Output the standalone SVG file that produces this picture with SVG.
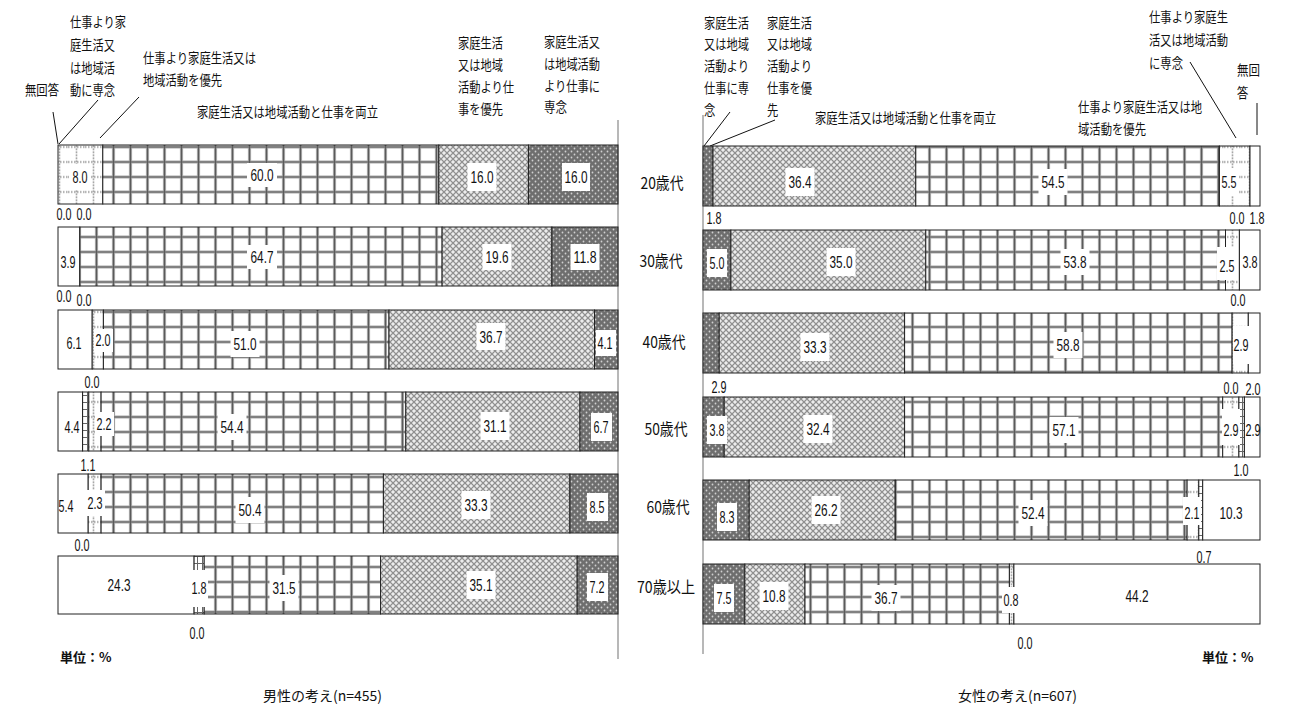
<svg xmlns="http://www.w3.org/2000/svg" width="1290" height="709" viewBox="0 0 1290 709">
<defs>
<pattern id="pGrid" patternUnits="userSpaceOnUse" x="3" y="4.5" width="17" height="15">
<rect width="17" height="15" fill="#fff"/>
<path d="M0 7.5H17M8.5 0V15" stroke="#a8a8a8" stroke-width="3.2" fill="none"/>
<path d="M0 7.5H17M8.5 0V15" stroke="#5a5a5a" stroke-width="1.2" fill="none"/>
</pattern>
<pattern id="pDot" patternUnits="userSpaceOnUse" x="0" y="4.5" width="17" height="15">
<rect width="17" height="15" fill="#fff"/>
<path d="M0 7.5H17M8.5 0V15" stroke="#8a8a8a" stroke-width="1.6" stroke-dasharray="1.5 1.5" fill="none"/>
</pattern>
<pattern id="pCross" patternUnits="userSpaceOnUse" width="6" height="6">
<rect width="6" height="6" fill="#dedede"/>
<path d="M0 0L6 6M6 0L0 6" stroke="#8c8c8c" stroke-width="1.1" fill="none"/>
<circle cx="3" cy="0" r="0.8" fill="#fff"/>
<circle cx="0" cy="3" r="0.8" fill="#fff"/>
<circle cx="6" cy="3" r="0.8" fill="#fff"/>
<circle cx="3" cy="6" r="0.8" fill="#fff"/>
</pattern>
<pattern id="pDark" patternUnits="userSpaceOnUse" width="6" height="6">
<rect width="6" height="6" fill="#6e6e6e"/>
<circle cx="1.5" cy="1.5" r="0.9" fill="#d0d0d0"/>
<circle cx="4.5" cy="4.5" r="0.9" fill="#d0d0d0"/>
</pattern>
<pattern id="pSmall" patternUnits="userSpaceOnUse" width="5" height="7">
<rect width="5" height="7" fill="#fff"/>
<path d="M0 3.5H5M2.5 0V7" stroke="#666" stroke-width="1" fill="none"/>
</pattern>
</defs>
<style>
.sg{stroke:#222;stroke-width:1}
.w{fill:#fff}
.g{fill:url(#pGrid)}
.o{fill:url(#pDot)}
.x{fill:url(#pCross)}
.d{fill:url(#pDark)}
.s{fill:url(#pSmall)}
.bx{fill:#fff}
.v{font-family:"Liberation Sans Narrow","Liberation Sans",sans-serif;font-size:16.5px;fill:#111;text-anchor:middle}
.jp{font-family:"Noto Sans CJK JP",sans-serif;font-size:13.5px;fill:#111}
.age{font-family:"Noto Sans CJK JP",sans-serif;font-size:16px;fill:#111;text-anchor:middle}
.unit{font-family:"Noto Sans CJK JP",sans-serif;font-size:13px;font-weight:bold;fill:#111}
.ttl{font-family:"Noto Sans CJK JP",sans-serif;font-size:14px;fill:#111}
.ax{stroke:#a0a0a0;stroke-width:1.5;fill:none}
.ld{stroke:#111;stroke-width:1;fill:none}
</style>
<rect width="1290" height="709" fill="#fff"/>
<g id="axes">
<line class="ax" x1="618" y1="120" x2="618" y2="659"/>
<line class="ax" x1="703" y1="115" x2="703" y2="654"/>
</g>
<g id="header-labels">
<text class="jp" x="25" y="95" textLength="34" lengthAdjust="spacingAndGlyphs">無回答</text>
<text class="jp" x="70" y="27" textLength="56" lengthAdjust="spacingAndGlyphs">仕事より家</text>
<text class="jp" x="70" y="50" textLength="45" lengthAdjust="spacingAndGlyphs">庭生活又</text>
<text class="jp" x="70" y="73" textLength="45" lengthAdjust="spacingAndGlyphs">は地域活</text>
<text class="jp" x="70" y="95" textLength="45" lengthAdjust="spacingAndGlyphs">動に専念</text>
<text class="jp" x="143" y="63" textLength="113" lengthAdjust="spacingAndGlyphs">仕事より家庭生活又は</text>
<text class="jp" x="143" y="85" textLength="79" lengthAdjust="spacingAndGlyphs">地域活動を優先</text>
<text class="jp" x="197" y="117" textLength="181" lengthAdjust="spacingAndGlyphs">家庭生活又は地域活動と仕事を両立</text>
<text class="jp" x="458" y="48" textLength="45" lengthAdjust="spacingAndGlyphs">家庭生活</text>
<text class="jp" x="458" y="70" textLength="45" lengthAdjust="spacingAndGlyphs">又は地域</text>
<text class="jp" x="458" y="92" textLength="56" lengthAdjust="spacingAndGlyphs">活動より仕</text>
<text class="jp" x="458" y="114" textLength="45" lengthAdjust="spacingAndGlyphs">事を優先</text>
<text class="jp" x="544" y="47" textLength="56" lengthAdjust="spacingAndGlyphs">家庭生活又</text>
<text class="jp" x="544" y="69" textLength="56" lengthAdjust="spacingAndGlyphs">は地域活動</text>
<text class="jp" x="544" y="91" textLength="56" lengthAdjust="spacingAndGlyphs">より仕事に</text>
<text class="jp" x="544" y="112" textLength="23" lengthAdjust="spacingAndGlyphs">専念</text>
<text class="jp" x="704" y="28" textLength="45" lengthAdjust="spacingAndGlyphs">家庭生活</text>
<text class="jp" x="704" y="49" textLength="45" lengthAdjust="spacingAndGlyphs">又は地域</text>
<text class="jp" x="704" y="71" textLength="45" lengthAdjust="spacingAndGlyphs">活動より</text>
<text class="jp" x="704" y="93" textLength="45" lengthAdjust="spacingAndGlyphs">仕事に専</text>
<text class="jp" x="704" y="115" textLength="11.3" lengthAdjust="spacingAndGlyphs">念</text>
<text class="jp" x="767" y="28" textLength="45" lengthAdjust="spacingAndGlyphs">家庭生活</text>
<text class="jp" x="767" y="49" textLength="45" lengthAdjust="spacingAndGlyphs">又は地域</text>
<text class="jp" x="767" y="71" textLength="45" lengthAdjust="spacingAndGlyphs">活動より</text>
<text class="jp" x="767" y="93" textLength="45" lengthAdjust="spacingAndGlyphs">仕事を優</text>
<text class="jp" x="767" y="115" textLength="11.3" lengthAdjust="spacingAndGlyphs">先</text>
<text class="jp" x="815" y="123" textLength="181" lengthAdjust="spacingAndGlyphs">家庭生活又は地域活動と仕事を両立</text>
<text class="jp" x="1149" y="22" textLength="79" lengthAdjust="spacingAndGlyphs">仕事より家庭生</text>
<text class="jp" x="1149" y="45" textLength="79" lengthAdjust="spacingAndGlyphs">活又は地域活動</text>
<text class="jp" x="1149" y="68" textLength="34" lengthAdjust="spacingAndGlyphs">に専念</text>
<text class="jp" x="1237" y="75" textLength="23" lengthAdjust="spacingAndGlyphs">無回</text>
<text class="jp" x="1237" y="98" textLength="11.3" lengthAdjust="spacingAndGlyphs">答</text>
<text class="jp" x="1078" y="112" textLength="124" lengthAdjust="spacingAndGlyphs">仕事より家庭生活又は地</text>
<text class="jp" x="1078" y="134" textLength="68" lengthAdjust="spacingAndGlyphs">域活動を優先</text>
</g>
<g id="connectors">
<line class="ld" x1="53" y1="112" x2="58" y2="144"/>
<line class="ld" x1="98" y1="100" x2="59" y2="144"/>
<line class="ld" x1="139" y1="97" x2="100" y2="138"/>
<line class="ld" x1="730" y1="112" x2="704" y2="146"/>
<line class="ld" x1="775" y1="120" x2="710" y2="146"/>
<line class="ld" x1="1190" y1="62" x2="1236" y2="138"/>
<line class="ld" x1="1257" y1="103" x2="1257" y2="135"/>
</g>
<g id="age-labels">
<text class="age" x="662" y="189" textLength="43" lengthAdjust="spacingAndGlyphs">20歳代</text>
<text class="age" x="661" y="267" textLength="43" lengthAdjust="spacingAndGlyphs">30歳代</text>
<text class="age" x="664" y="348" textLength="43" lengthAdjust="spacingAndGlyphs">40歳代</text>
<text class="age" x="666" y="435" textLength="43" lengthAdjust="spacingAndGlyphs">50歳代</text>
<text class="age" x="668" y="513" textLength="43" lengthAdjust="spacingAndGlyphs">60歳代</text>
<text class="age" x="666" y="593" textLength="58" lengthAdjust="spacingAndGlyphs">70歳以上</text>
</g>
<g id="m20">
<rect class="sg o" x="58" y="145" width="44.8" height="59"/>
<rect class="sg g" x="102.8" y="145" width="336" height="59"/>
<rect class="sg x" x="438.8" y="145" width="89.6" height="59"/>
<rect class="sg d" x="528.4" y="145" width="89.6" height="59"/>
<rect class="bx" x="69" y="164" width="22" height="26"/><text class="v" x="80" y="183" textLength="15" lengthAdjust="spacingAndGlyphs">8.0</text>
<rect class="bx" x="247" y="163" width="30" height="24"/><text class="v" x="262" y="181" textLength="23" lengthAdjust="spacingAndGlyphs">60.0</text>
<rect class="bx" x="467.5" y="163" width="29" height="28"/><text class="v" x="482" y="183" textLength="23" lengthAdjust="spacingAndGlyphs">16.0</text>
<rect class="bx" x="562" y="163" width="28" height="28"/><text class="v" x="576" y="183" textLength="23" lengthAdjust="spacingAndGlyphs">16.0</text>
<text class="v" x="64" y="220" textLength="15" lengthAdjust="spacingAndGlyphs">0.0</text>
<text class="v" x="84" y="220" textLength="15" lengthAdjust="spacingAndGlyphs">0.0</text>
</g>
<g id="m30">
<rect class="sg w" x="58" y="227" width="21.8" height="59"/>
<rect class="sg g" x="79.8" y="227" width="362.3" height="59"/>
<rect class="sg x" x="442.1" y="227" width="109.8" height="59"/>
<rect class="sg d" x="551.9" y="227" width="66.1" height="59"/>
<text class="v" x="68" y="268" textLength="15" lengthAdjust="spacingAndGlyphs">3.9</text>
<rect class="bx" x="247" y="245" width="30" height="24"/><text class="v" x="262" y="263" textLength="23" lengthAdjust="spacingAndGlyphs">64.7</text>
<rect class="bx" x="482.5" y="244" width="29" height="26"/><text class="v" x="497" y="263" textLength="23" lengthAdjust="spacingAndGlyphs">19.6</text>
<rect class="bx" x="570.5" y="244" width="29" height="26"/><text class="v" x="585" y="263" textLength="23" lengthAdjust="spacingAndGlyphs">11.8</text>
<text class="v" x="64" y="302" textLength="15" lengthAdjust="spacingAndGlyphs">0.0</text>
<text class="v" x="84" y="306" textLength="15" lengthAdjust="spacingAndGlyphs">0.0</text>
</g>
<g id="m40">
<rect class="sg w" x="58" y="310" width="34.2" height="59"/>
<rect class="sg o" x="92.2" y="310" width="11.2" height="59"/>
<rect class="sg g" x="103.4" y="310" width="285.6" height="59"/>
<rect class="sg x" x="389" y="310" width="205.5" height="59"/>
<rect class="sg d" x="594.5" y="310" width="23.5" height="59"/>
<text class="v" x="74" y="349" textLength="15" lengthAdjust="spacingAndGlyphs">6.1</text>
<rect class="bx" x="94" y="329" width="19" height="23"/><text class="v" x="103" y="346" textLength="15" lengthAdjust="spacingAndGlyphs">2.0</text>
<rect class="bx" x="230.5" y="331" width="29" height="26"/><text class="v" x="245" y="350" textLength="23" lengthAdjust="spacingAndGlyphs">51.0</text>
<rect class="bx" x="476.5" y="323" width="29" height="27"/><text class="v" x="491" y="343" textLength="23" lengthAdjust="spacingAndGlyphs">36.7</text>
<rect class="bx" x="596" y="330" width="20" height="26"/><text class="v" x="605" y="349" textLength="15" lengthAdjust="spacingAndGlyphs">4.1</text>
<text class="v" x="92" y="388" textLength="15" lengthAdjust="spacingAndGlyphs">0.0</text>
</g>
<g id="m50">
<rect class="sg w" x="58" y="392" width="24.6" height="59"/>
<rect class="sg s" x="82.6" y="392" width="6.2" height="59"/>
<rect class="sg o" x="88.8" y="392" width="12.3" height="59"/>
<rect class="sg g" x="101.1" y="392" width="304.7" height="59"/>
<rect class="sg x" x="405.8" y="392" width="174.2" height="59"/>
<rect class="sg d" x="580" y="392" width="38" height="59"/>
<text class="v" x="72" y="433" textLength="15" lengthAdjust="spacingAndGlyphs">4.4</text>
<rect class="bx" x="95" y="412" width="19" height="24"/><text class="v" x="104" y="430" textLength="15" lengthAdjust="spacingAndGlyphs">2.2</text>
<rect class="bx" x="217.5" y="414" width="29" height="26"/><text class="v" x="232" y="433" textLength="23" lengthAdjust="spacingAndGlyphs">54.4</text>
<rect class="bx" x="480.5" y="412" width="29" height="28"/><text class="v" x="495" y="432" textLength="23" lengthAdjust="spacingAndGlyphs">31.1</text>
<rect class="bx" x="591" y="413" width="21" height="28"/><text class="v" x="601" y="433" textLength="15" lengthAdjust="spacingAndGlyphs">6.7</text>
<text class="v" x="88" y="471" textLength="15" lengthAdjust="spacingAndGlyphs">1.1</text>
</g>
<g id="m60">
<rect class="sg w" x="58" y="474" width="30.2" height="59"/>
<rect class="sg o" x="88.2" y="474" width="12.9" height="59"/>
<rect class="sg g" x="101.1" y="474" width="282.3" height="59"/>
<rect class="sg x" x="383.4" y="474" width="186.5" height="59"/>
<rect class="sg d" x="569.9" y="474" width="48.1" height="59"/>
<text class="v" x="66" y="512" textLength="15" lengthAdjust="spacingAndGlyphs">5.4</text>
<rect class="bx" x="86" y="490" width="19" height="26"/><text class="v" x="95" y="509" textLength="15" lengthAdjust="spacingAndGlyphs">2.3</text>
<rect class="bx" x="235.5" y="497" width="29" height="26"/><text class="v" x="250" y="516" textLength="23" lengthAdjust="spacingAndGlyphs">50.4</text>
<rect class="bx" x="461.5" y="491" width="29" height="28"/><text class="v" x="476" y="511" textLength="23" lengthAdjust="spacingAndGlyphs">33.3</text>
<rect class="bx" x="587" y="493" width="21" height="28"/><text class="v" x="597" y="513" textLength="15" lengthAdjust="spacingAndGlyphs">8.5</text>
<text class="v" x="82" y="551" textLength="15" lengthAdjust="spacingAndGlyphs">0.0</text>
</g>
<g id="m70">
<rect class="sg w" x="58" y="556" width="136.1" height="58"/>
<rect class="sg s" x="194.1" y="556" width="10.1" height="58"/>
<rect class="sg g" x="204.2" y="556" width="176.4" height="58"/>
<rect class="sg x" x="380.6" y="556" width="196.6" height="58"/>
<rect class="sg d" x="577.2" y="556" width="40.8" height="58"/>
<text class="v" x="119" y="591" textLength="23" lengthAdjust="spacingAndGlyphs">24.3</text>
<rect class="bx" x="190" y="570" width="18" height="37"/><text class="v" x="199" y="594" textLength="15" lengthAdjust="spacingAndGlyphs">1.8</text>
<rect class="bx" x="269.5" y="575" width="29" height="26"/><text class="v" x="284" y="594" textLength="23" lengthAdjust="spacingAndGlyphs">31.5</text>
<rect class="bx" x="466.5" y="571" width="29" height="28"/><text class="v" x="481" y="591" textLength="23" lengthAdjust="spacingAndGlyphs">35.1</text>
<rect class="bx" x="587" y="573" width="21" height="28"/><text class="v" x="597" y="593" textLength="15" lengthAdjust="spacingAndGlyphs">7.2</text>
<text class="v" x="197" y="639" textLength="15" lengthAdjust="spacingAndGlyphs">0.0</text>
</g>
<g id="f20">
<rect class="sg d" x="703" y="146" width="10" height="60"/>
<rect class="sg x" x="713" y="146" width="202.8" height="60"/>
<rect class="sg g" x="915.8" y="146" width="303.6" height="60"/>
<rect class="sg o" x="1219.4" y="146" width="30.6" height="60"/>
<rect class="sg w" x="1250" y="146" width="10" height="60"/>
<rect class="bx" x="785.5" y="168" width="29" height="28"/><text class="v" x="800" y="188" textLength="23" lengthAdjust="spacingAndGlyphs">36.4</text>
<rect class="bx" x="1038.5" y="169" width="29" height="26"/><text class="v" x="1053" y="188" textLength="23" lengthAdjust="spacingAndGlyphs">54.5</text>
<rect class="bx" x="1220" y="168" width="18" height="28"/><text class="v" x="1229" y="188" textLength="15" lengthAdjust="spacingAndGlyphs">5.5</text>
<text class="v" x="714" y="224" textLength="15" lengthAdjust="spacingAndGlyphs">1.8</text>
<text class="v" x="1237" y="224" textLength="15" lengthAdjust="spacingAndGlyphs">0.0</text>
<text class="v" x="1257" y="224" textLength="15" lengthAdjust="spacingAndGlyphs">1.8</text>
</g>
<g id="f30">
<rect class="sg d" x="703" y="230" width="27.9" height="60"/>
<rect class="sg x" x="730.9" y="230" width="194.9" height="60"/>
<rect class="sg g" x="925.8" y="230" width="299.7" height="60"/>
<rect class="sg o" x="1225.5" y="230" width="13.9" height="60"/>
<rect class="sg w" x="1239.4" y="230" width="20.6" height="60"/>
<rect class="bx" x="707" y="249" width="20" height="28"/><text class="v" x="717" y="269" textLength="15" lengthAdjust="spacingAndGlyphs">5.0</text>
<rect class="bx" x="826.5" y="248" width="29" height="28"/><text class="v" x="841" y="268" textLength="23" lengthAdjust="spacingAndGlyphs">35.0</text>
<rect class="bx" x="1060.5" y="249" width="29" height="26"/><text class="v" x="1075" y="268" textLength="23" lengthAdjust="spacingAndGlyphs">53.8</text>
<rect class="bx" x="1217" y="247" width="21" height="33"/><text class="v" x="1227" y="272" textLength="15" lengthAdjust="spacingAndGlyphs">2.5</text>
<text class="v" x="1250" y="268" textLength="15" lengthAdjust="spacingAndGlyphs">3.8</text>
<text class="v" x="1238" y="306" textLength="15" lengthAdjust="spacingAndGlyphs">0.0</text>
</g>
<g id="f40">
<rect class="sg d" x="703" y="313" width="16.2" height="60"/>
<rect class="sg x" x="719.2" y="313" width="185.4" height="60"/>
<rect class="sg g" x="904.6" y="313" width="327.5" height="60"/>
<rect class="sg o" x="1232.1" y="313" width="16.2" height="60"/>
<rect class="sg w" x="1248.3" y="313" width="11.7" height="60"/>
<rect class="bx" x="800.5" y="333" width="29" height="28"/><text class="v" x="815" y="353" textLength="23" lengthAdjust="spacingAndGlyphs">33.3</text>
<rect class="bx" x="1053.5" y="332" width="29" height="26"/><text class="v" x="1068" y="351" textLength="23" lengthAdjust="spacingAndGlyphs">58.8</text>
<rect class="bx" x="1233" y="326" width="16" height="38"/><text class="v" x="1241" y="351" textLength="15" lengthAdjust="spacingAndGlyphs">2.9</text>
<text class="v" x="719" y="393" textLength="15" lengthAdjust="spacingAndGlyphs">2.9</text>
<text class="v" x="1231" y="394" textLength="15" lengthAdjust="spacingAndGlyphs">0.0</text>
<text class="v" x="1253" y="395" textLength="15" lengthAdjust="spacingAndGlyphs">2.0</text>
</g>
<g id="f50">
<rect class="sg d" x="703" y="397" width="21.2" height="60"/>
<rect class="sg x" x="724.2" y="397" width="180.4" height="60"/>
<rect class="sg g" x="904.6" y="397" width="318.1" height="60"/>
<rect class="sg o" x="1222.7" y="397" width="16.2" height="60"/>
<rect class="sg s" x="1238.9" y="397" width="5.5" height="60"/>
<rect class="sg w" x="1244.4" y="397" width="15.6" height="60"/>
<rect class="bx" x="707" y="416" width="20" height="28"/><text class="v" x="717" y="436" textLength="15" lengthAdjust="spacingAndGlyphs">3.8</text>
<rect class="bx" x="803.5" y="415" width="29" height="28"/><text class="v" x="818" y="435" textLength="23" lengthAdjust="spacingAndGlyphs">32.4</text>
<rect class="bx" x="1049.5" y="417" width="29" height="26"/><text class="v" x="1064" y="436" textLength="23" lengthAdjust="spacingAndGlyphs">57.1</text>
<rect class="bx" x="1222" y="409" width="18" height="36"/><text class="v" x="1231" y="436" textLength="15" lengthAdjust="spacingAndGlyphs">2.9</text>
<text class="v" x="1253" y="436" textLength="15" lengthAdjust="spacingAndGlyphs">2.9</text>
<text class="v" x="1241" y="476" textLength="15" lengthAdjust="spacingAndGlyphs">1.0</text>
</g>
<g id="f60">
<rect class="sg d" x="703" y="480" width="46.2" height="60"/>
<rect class="sg x" x="749.2" y="480" width="146" height="60"/>
<rect class="sg g" x="895.2" y="480" width="291.9" height="60"/>
<rect class="sg o" x="1187.1" y="480" width="11.7" height="60"/>
<rect class="sg s" x="1198.8" y="480" width="3.9" height="60"/>
<rect class="sg w" x="1202.7" y="480" width="57.3" height="60"/>
<rect class="bx" x="717" y="503" width="20" height="28"/><text class="v" x="727" y="523" textLength="15" lengthAdjust="spacingAndGlyphs">8.3</text>
<rect class="bx" x="811.5" y="496" width="29" height="28"/><text class="v" x="826" y="516" textLength="23" lengthAdjust="spacingAndGlyphs">26.2</text>
<rect class="bx" x="1018.5" y="500" width="29" height="26"/><text class="v" x="1033" y="519" textLength="23" lengthAdjust="spacingAndGlyphs">52.4</text>
<rect class="bx" x="1183" y="497" width="18" height="28"/><text class="v" x="1192" y="519" textLength="15" lengthAdjust="spacingAndGlyphs">2.1</text>
<text class="v" x="1231" y="519" textLength="23" lengthAdjust="spacingAndGlyphs">10.3</text>
<text class="v" x="1204" y="563" textLength="15" lengthAdjust="spacingAndGlyphs">0.7</text>
</g>
<g id="f70">
<rect class="sg d" x="703" y="564" width="41.8" height="60"/>
<rect class="sg x" x="744.8" y="564" width="60.2" height="60"/>
<rect class="sg g" x="805" y="564" width="204.4" height="60"/>
<rect class="sg o" x="1009.4" y="564" width="4.5" height="60"/>
<rect class="sg w" x="1013.9" y="564" width="246.1" height="60"/>
<rect class="bx" x="714" y="584" width="20" height="28"/><text class="v" x="724" y="604" textLength="15" lengthAdjust="spacingAndGlyphs">7.5</text>
<rect class="bx" x="759.5" y="582" width="29" height="28"/><text class="v" x="774" y="602" textLength="23" lengthAdjust="spacingAndGlyphs">10.8</text>
<rect class="bx" x="871.5" y="585" width="29" height="26"/><text class="v" x="886" y="604" textLength="23" lengthAdjust="spacingAndGlyphs">36.7</text>
<rect class="bx" x="1002" y="587" width="18" height="26"/><text class="v" x="1011" y="606" textLength="15" lengthAdjust="spacingAndGlyphs">0.8</text>
<text class="v" x="1137" y="602" textLength="23" lengthAdjust="spacingAndGlyphs">44.2</text>
<text class="v" x="1025" y="649" textLength="15" lengthAdjust="spacingAndGlyphs">0.0</text>
</g>
<g id="footer">
<text class="unit" x="60" y="662">単位：%</text>
<text class="unit" x="1202" y="662">単位：%</text>
<text class="ttl" x="263" y="701">男性の考え(n=455)</text>
<text class="ttl" x="958" y="701">女性の考え(n=607)</text>
</g>
</svg>
